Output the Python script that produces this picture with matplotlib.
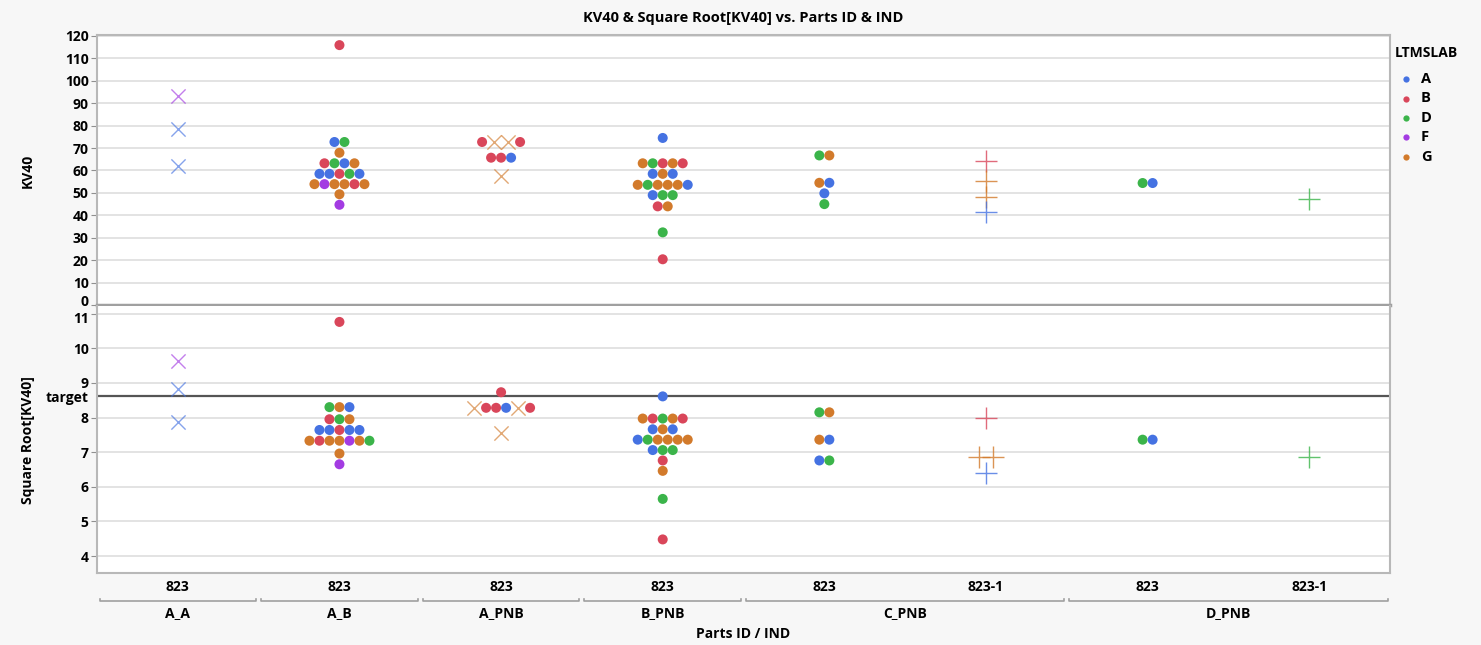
import matplotlib.pyplot as plt
import numpy as np
from matplotlib.lines import Line2D
from matplotlib.transforms import blended_transform_factory, ScaledTranslation

plt.rcParams['font.family'] = ['Open Sans', 'DejaVu Sans']
plt.rcParams['font.weight'] = 'bold'

# x axis: Parts ID / IND
groups = ['A_A', 'A_B', 'A_PNB', 'B_PNB', 'C_PNB', 'D_PNB']
group_slots = [[0], [1], [2], [3], [4, 5], [6, 7]]
inds = ['823', '823', '823', '823', '823', '823-1', '823', '823-1']

# LTMSLAB colours
labs = ['A', 'B', 'D', 'F', 'G']
lab_colors = ['#4572e2', '#d9465a', '#3bb44a', '#a33be2', '#d27a2b']

# grid rows per slot: (value, LTMSLAB of each point left->right, marker)
kv40 = [
    [(93.3, 'F', 'x'), (78.3, 'A', 'x'), (62.1, 'A', 'x')],
    [(115.9, 'B', 'o'), (72.7, 'AD', 'o'), (67.9, 'G', 'o'), (63.2, 'BDAG', 'o'),
     (58.5, 'AABDA', 'o'), (53.9, 'GFGGBG', 'o'), (49.4, 'G', 'o'), (44.7, 'F', 'o')],
    [(72.7, 'BGGB', 'oxxo'), (65.7, 'BBA', 'o'), (57.5, 'G', 'x')],
    [(74.5, 'A', 'o'), (63.2, 'GDBGB', 'o'), (58.5, 'AGA', 'o'), (53.6, 'GDGGGA', 'o'),
     (49.0, 'ADD', 'o'), (44.0, 'BG', 'o'), (32.4, 'D', 'o'), (20.4, 'B', 'o')],
    [(66.7, 'DG', 'o'), (54.5, 'GA', 'o'), (49.8, 'A', 'o'), (45.0, 'D', 'o')],
    [(64.2, 'B', '+'), (55.4, 'G', '+'), (48.3, 'G', '+'), (41.5, 'A', '+')],
    [(54.4, 'DA', 'o')],
    [(47.3, 'D', '+')],
]

sqrt_kv40 = [
    [(9.64, 'F', 'x'), (8.82, 'A', 'x'), (7.86, 'A', 'x')],
    [(10.76, 'B', 'o'), (8.30, 'DGA', 'o'), (7.95, 'BDG', 'o'), (7.64, 'AABAA', 'o'),
     (7.33, 'GBGGFGD', 'o'), (6.96, 'G', 'o'), (6.65, 'F', 'o')],
    [(8.73, 'B', 'o'), (8.28, 'GBBAGB', 'xoooxo'), (7.55, 'G', 'x')],
    [(8.61, 'A', 'o'), (7.97, 'GBDGB', 'o'), (7.66, 'AGA', 'o'), (7.36, 'ADGGGG', 'o'),
     (7.06, 'ADD', 'o'), (6.76, 'B', 'o'), (6.46, 'G', 'o'), (5.65, 'D', 'o'), (4.48, 'B', 'o')],
    [(8.15, 'DG', 'o'), (7.36, 'GA', 'o'), (6.76, 'AD', 'o')],
    [(7.98, 'B', '+'), (6.86, 'GG', '+'), (6.41, 'A', '+')],
    [(7.36, 'DA', 'o')],
    [(6.86, 'D', '+')],
]
target = 8.615

W, H, DPI = 14.81, 6.45, 100
fig = plt.figure(figsize=(W, H), dpi=DPI, facecolor='#f7f7f7')
left, width = 0.0655, 0.8731
ax1 = fig.add_axes([left, 0.5271, width, 0.4186])
ax2 = fig.add_axes([left, 0.1116, width, 0.4140])

px_per_x = W * DPI * width / len(inds)
foot = {'o': 10, 'x': 14, '+': 14}  # horizontal footprint in px
style = {
    'o': dict(s=52, edgecolors='none'),
    'x': dict(s=105, linewidths=1.0, alpha=0.65),
    '+': dict(s=230, linewidths=1.0, alpha=0.8),
}


def draw_points(ax, rows_by_slot):
    for slot, rows in enumerate(rows_by_slot):
        for value, row_labs, row_marks in rows:
            if len(row_marks) == 1:
                row_marks = row_marks * len(row_labs)
            w = np.array([foot[m] for m in row_marks], dtype=float)
            edges = np.concatenate([[0], np.cumsum(w)])
            offs = (edges[:-1] + edges[1:]) / 2 - edges[-1] / 2
            for lab, m, off in zip(row_labs, row_marks, offs):
                c = lab_colors[labs.index(lab)]
                ax.scatter(slot + off / px_per_x, value, marker=m, color=c,
                           zorder=3, **style[m])


for ax in (ax1, ax2):
    ax.set_facecolor('white')
    ax.set_xlim(-0.5, len(inds) - 0.5)
    ax.grid(axis='y', color='#dedede', lw=1.2, zorder=0)
    ax.set_axisbelow(True)
    for s in ax.spines.values():
        s.set_color('#b8b8b8')
        s.set_linewidth(1.5)
    ax.tick_params(axis='y', length=4, color='#909090', labelsize=10, pad=2)
    ax.tick_params(axis='x', length=0)

ax1.spines['bottom'].set_color('#a0a0a0')
ax1.spines['bottom'].set_linewidth(2.5)
ax2.spines['top'].set_visible(False)

draw_points(ax1, kv40)
draw_points(ax2, sqrt_kv40)

ax1.set_ylim(0, 120.4)
ax1.set_yticks(np.arange(0, 121, 10))
ax1.set_xticks([])

ax2.set_ylim(3.51, 11.22)
ax2.axhline(target, color='#555555', lw=1.6, zorder=2)
ax2.set_yticks(list(range(4, 12)) + [target])
ax2.set_yticklabels([str(v) for v in range(4, 12)] + ['target'])
ax2.set_xticks(range(len(inds)))
ax2.set_xticklabels(inds, fontsize=10)
ax2.tick_params(axis='x', pad=5)
ax2.yaxis.get_major_ticks()[-1].tick1line.set_visible(False)

# keep the "0" and "11" labels at the panel seam apart
fig.canvas.draw()
ax1.get_yticklabels()[0].set_transform(
    ax1.get_yticklabels()[0].get_transform() + ScaledTranslation(0, 3 / 72, fig.dpi_scale_trans))
lab11 = ax2.get_yticklabels()[7]
lab11.set_transform(lab11.get_transform() + ScaledTranslation(0, -3 / 72, fig.dpi_scale_trans))

# group brackets under the IND labels
tr = blended_transform_factory(ax2.transData, ax2.transAxes)
gap = 2.5 / px_per_x
for name, slots in zip(groups, group_slots):
    x0, x1 = min(slots) - 0.5 + gap, max(slots) + 0.5 - gap
    ax2.plot([x0, x0, x1, x1], [-0.097, -0.106, -0.106, -0.097], color='#a0a0a0',
             lw=1.2, transform=tr, clip_on=False)
    ax2.text((x0 + x1) / 2, -0.15, name, transform=tr, ha='center', va='center',
             fontsize=10)

fig.text(0.5017, 0.972, 'KV40 & Square Root[KV40] vs. Parts ID & IND',
         ha='center', va='center', fontsize=10.5)
fig.text(0.5017, 0.017, 'Parts ID / IND', ha='center', va='center', fontsize=10)
fig.text(0.019, 0.735, 'KV40', rotation=90, ha='center', va='center', fontsize=10)
fig.text(0.019, 0.318, 'Square Root[KV40]', rotation=90, ha='center', va='center',
         fontsize=10)

# legend
fig.text(1395 / 1481, 1 - 53 / 645, 'LTMSLAB', ha='left', va='center', fontsize=10)
for i, (lab, c) in enumerate(zip(labs, lab_colors)):
    y = 1 - (79 + 19.5 * i) / 645
    fig.add_artist(Line2D([1406 / 1481], [y], marker='o', color=c, ms=4.5,
                          mec='none', transform=fig.transFigure))
    fig.text(1421 / 1481, y, lab, ha='left', va='center', fontsize=10.5)

fig.savefig('out.png', dpi=DPI, facecolor=fig.get_facecolor())
